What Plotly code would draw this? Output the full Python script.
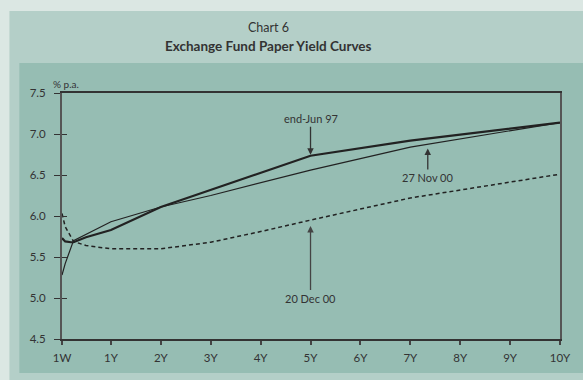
import plotly.graph_objects as go

# Data (years to maturity; 1W = 1/52)
tenor_ticks = [1/52, 1, 2, 3, 4, 5, 6, 7, 8, 9, 10]
tenor_labels = ["1W", "1Y", "2Y", "3Y", "4Y", "5Y", "6Y", "7Y", "8Y", "9Y", "10Y"]

jun97_x = [1/52, 1/12, 0.2, 0.25, 0.5, 1, 2, 3, 4, 5, 7, 10]
jun97_y = [5.73, 5.69, 5.68, 5.68, 5.74, 5.83, 6.11, 6.32, 6.53, 6.735, 6.92, 7.14]

nov00_x = [1/52, 1/12, 0.25, 0.5, 1, 2, 3, 5, 7, 10]
nov00_y = [5.28, 5.42, 5.70, 5.78, 5.93, 6.11, 6.25, 6.56, 6.84, 7.14]

dec00_x = [1/52, 1/12, 0.25, 0.5, 1, 2, 3, 4, 5, 7, 10]
dec00_y = [6.03, 5.87, 5.69, 5.64, 5.60, 5.60, 5.68, 5.81, 5.95, 6.22, 6.51]

W, H = 583, 380
ML, MR, MT, MB = 62, 19, 93, 41
PW, PH = W - ML - MR, H - MT - MB

def px(x):
    return (x - ML) / PW

def py(y):
    return (H - MB - y) / PH

ink = "#222222"
fig = go.Figure()
fig.add_trace(go.Scatter(x=jun97_x, y=jun97_y, mode="lines", line=dict(color=ink, width=2.2), name="end-Jun 97"))
fig.add_trace(go.Scatter(x=nov00_x, y=nov00_y, mode="lines", line=dict(color=ink, width=1.2), name="27 Nov 00"))
fig.add_trace(go.Scatter(x=dec00_x, y=dec00_y, mode="lines", line=dict(color=ink, width=1.5, dash="4px,3px"), name="20 Dec 00"))
# invisible trace for secondary y axis (inner ticks)
fig.add_trace(go.Scatter(x=[1/52], y=[4.5], mode="markers", marker=dict(opacity=0), yaxis="y2", showlegend=False, hoverinfo="skip"))

font = "Lato"
txt = "#333333"

fig.update_layout(
    width=W, height=H,
    margin=dict(l=ML, r=MR, t=MT, b=MB),
    paper_bgcolor="#dbe7e3",
    plot_bgcolor="rgba(0,0,0,0)",
    showlegend=False,
    font=dict(family=font, color=txt, size=11),
    xaxis=dict(range=[1/52, 10], tickvals=tenor_ticks, ticktext=tenor_labels,
               showgrid=False, zeroline=False, showline=True, linecolor="#333333", linewidth=1.5,
               mirror=True, ticks="outside", ticklen=4, tickcolor="#444444", tickwidth=1.5,
               ticklabelstandoff=3, tickfont=dict(size=11.5, color=txt, family=font)),
    yaxis=dict(range=[4.5, 7.5], dtick=0.5, tickformat=".1f", showgrid=False, zeroline=False,
               showline=True, linecolor="#555555", linewidth=2, mirror=True,
               ticks="outside", ticklen=6, tickcolor="#333333", tickwidth=1.2,
               ticklabelstandoff=6, tickfont=dict(size=11.5, color=txt, family=font)),
    yaxis2=dict(range=[4.5, 7.5], dtick=0.5, overlaying="y", side="left", showticklabels=False,
                showgrid=False, zeroline=False, ticks="inside", ticklen=5, tickcolor="#333333",
                tickwidth=1.2, showline=False),
    shapes=[
        dict(type="rect", xref="paper", yref="paper", x0=px(9), x1=px(W + 5), y0=py(11), y1=py(H + 5),
             fillcolor="#b4cfc8", line=dict(width=0), layer="below"),
        dict(type="rect", xref="paper", yref="paper", x0=px(19), x1=px(W + 5), y0=py(63), y1=py(373),
             fillcolor="#96bdb3", line=dict(width=0), layer="below"),
    ],
    annotations=[
        dict(text="Chart 6", x=px(270), y=py(27), xref="paper", yref="paper", showarrow=False,
             xanchor="center", yanchor="middle", font=dict(size=12.5, color=txt, family=font)),
        dict(text="<b>Exchange Fund Paper Yield Curves</b>", x=px(270), y=py(46), xref="paper", yref="paper",
             xanchor="center", yanchor="middle", showarrow=False, font=dict(size=13.5, color=txt, family=font)),
        dict(text="% p.a.", x=px(51), y=py(84), xref="paper", yref="paper", xanchor="left", yanchor="middle",
             showarrow=False, font=dict(size=10, color=txt, family=font)),
        dict(text="end-Jun 97", x=5, y=6.735, ax=0, ay=-37, showarrow=True, arrowhead=2, arrowsize=1,
             arrowwidth=1.3, arrowcolor="#333333", standoff=1, font=dict(size=11, color=txt, family=font)),
        dict(text="27 Nov 00", x=7.35, y=6.86, ax=0, ay=32, showarrow=True, arrowhead=2, arrowsize=1,
             arrowwidth=1.3, arrowcolor="#333333", standoff=3, font=dict(size=11, color=txt, family=font)),
        dict(text="20 Dec 00", x=5, y=5.95, ax=0, ay=78, showarrow=True, arrowhead=2, arrowsize=1,
             arrowwidth=1.3, arrowcolor="#444444", standoff=6, font=dict(size=11, color=txt, family=font)),
    ],
)

fig.write_html("out.html")
